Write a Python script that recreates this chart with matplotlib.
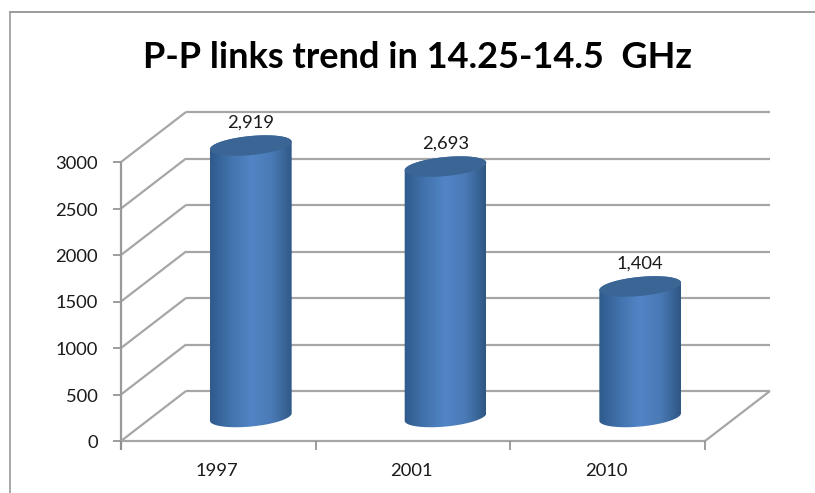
import numpy as np
import matplotlib
matplotlib.use("Agg")
import matplotlib.pyplot as plt
from matplotlib.patches import Polygon
from matplotlib.colors import LinearSegmentedColormap

years = ["1997", "2001", "2010"]
links = [2919, 2693, 1404]
value_labels = ["2,919", "2,693", "1,404"]
y_ticks = [0, 500, 1000, 1500, 2000, 2500, 3000]
title = "P-P links trend in 14.25-14.5  GHz"

W, H = 815, 493
fig = plt.figure(figsize=(W/100, H/100), dpi=100, facecolor="white")

# Front plane of the 3-D box is the axes rectangle
L, R, B, T = 121, 705, 441, 162
ax = fig.add_axes([L/W, 1-B/H, (R-L)/W, (B-T)/H])
ax.axis("off")
px_x = (R-L)/3; px_y = (B-T)/3000
DX, DY = 65/px_x, 50/px_y     # depth vector in data units
GRID = "#a6a6a6"
FS = 13.2

def line(xs, ys, color=GRID, lw=1.6, z=1):
    ax.plot(xs, ys, color=color, lw=lw, clip_on=False, zorder=z, solid_capstyle="butt")

for v in y_ticks:
    line([0, DX], [v, v+DY])
    line([DX, 3+DX], [v+DY, v+DY])
    line([-8/px_x, 0], [v, v], color="#8c8c8c", lw=1.2)
    ax.text(-23/px_x, v - 2/px_y, str(v), ha="right", va="center", fontsize=FS,
            family="Lato", color="#1a1a1a", clip_on=False)
line([0, 0], [-9/px_y, 3000], color="#9a9a9a")
line([0, 3], [0, 0])
line([3, 3+DX], [0, DY])
for i in range(4):
    line([i, i], [-9/px_y, 0], color="#8c8c8c", lw=1.2)

cmap = LinearSegmentedColormap.from_list("cyl", ["#2f5a8c", "#4273ad", "#5285c6", "#4a7ab6", "#2e5784"])
half_w = 41/px_x
tilt = np.deg2rad(5.5)
ell_w, ell_h = 82, 19
grad = np.linspace(0, 1, 128)[None, :]

def ellipse(cx, yc):
    t = np.linspace(0, 2*np.pi, 241)[:-1]
    ex, ey = ell_w/2*np.cos(t), ell_h/2*np.sin(t)
    xr = ex*np.cos(tilt) - ey*np.sin(tilt)
    yr = ex*np.sin(tilt) + ey*np.cos(tilt)
    return cx + xr/px_x, yc + yr/px_y

def arc(xs, ys, upper):
    # counter-clockwise run of the ellipse between its extreme x points
    a, b = (np.argmax(xs), np.argmin(xs)) if upper else (np.argmin(xs), np.argmax(xs))
    idx = np.arange(a, a + ((b - a) % len(xs)) + 1) % len(xs)
    return np.c_[xs[idx], ys[idx]]

for i, (val, lab) in enumerate(zip(links, value_labels)):
    cx = i + .5 + DX/2
    y0 = DY/2 - 1/px_y
    y1 = y0 + val
    xb, yb = ellipse(cx, y0)
    xt, yt = ellipse(cx, y1)
    poly = np.vstack([arc(xb, yb, False), arc(xt, yt, True)])
    patch = Polygon(poly, closed=True, transform=ax.transData, fc="none", ec="none")
    ax.add_patch(patch)
    im = ax.imshow(grad, extent=[cx-half_w, cx+half_w, y0-15/px_y, y1+15/px_y],
                   cmap=cmap, aspect="auto", zorder=3)
    im.set_clip_box(fig.bbox)
    im.set_clip_path(patch)
    ax.fill(xt, yt, color="#3a6594", zorder=4, clip_on=False, lw=0)
    ax.text(cx, y1 + 23/px_y, lab, ha="center", va="center", fontsize=FS,
            family="Lato", color="#1a1a1a", zorder=5, clip_on=False)
    ax.text(i + .5 - 1.5/px_x, -30.5/px_y, years[i], ha="center", va="center", fontsize=FS,
            family="Lato", color="#1a1a1a", clip_on=False)
ax.set_xlim(0, 3); ax.set_ylim(0, 3000)

fig.text(417/W, 1-57/H, title, ha="center", va="center", fontsize=26,
         fontweight="bold", family="Lato", color="black")
# Chart frame
fig.add_artist(plt.Line2D([10/W, 1], [1-12/H, 1-12/H], color="#8a8a8a", lw=1.2))
fig.add_artist(plt.Line2D([10/W, 10/W], [1-12/H, 0], color="#9a9a9a", lw=1.2))

fig.savefig("out.png", dpi=100, facecolor="white")
